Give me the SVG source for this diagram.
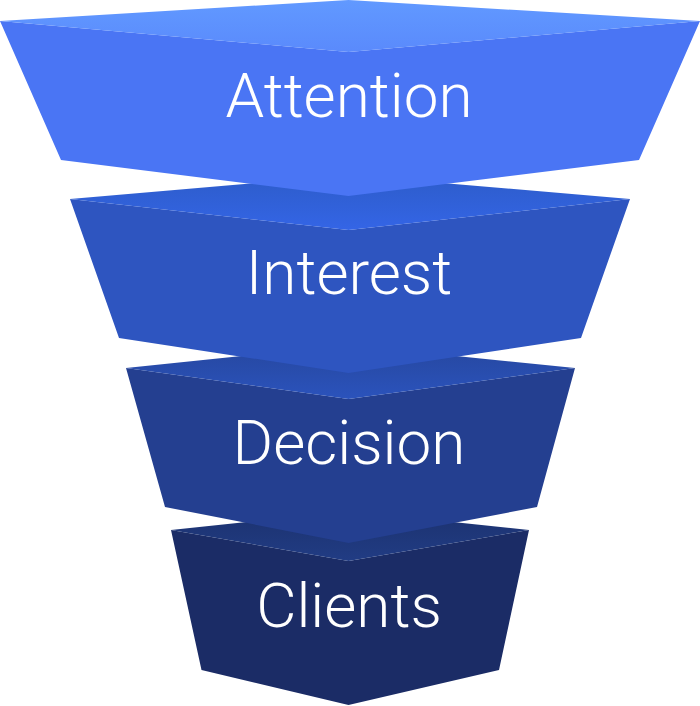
<svg xmlns="http://www.w3.org/2000/svg" width="700" height="706" viewBox="0 0 700 706">
<defs>
<linearGradient id="t1" x1="0" y1="0" x2="0" y2="1"><stop offset="0" stop-color="#6199FF"/><stop offset="1" stop-color="#5A8AFC"/></linearGradient>
<linearGradient id="t2" x1="0" y1="0" x2="0" y2="1"><stop offset="0" stop-color="#2D5CC9"/><stop offset="1" stop-color="#3465E6"/></linearGradient>
<linearGradient id="t3" x1="0" y1="0" x2="0" y2="1"><stop offset="0" stop-color="#26479F"/><stop offset="1" stop-color="#2B53BC"/></linearGradient>
<linearGradient id="t4" x1="0" y1="0" x2="0" y2="1"><stop offset="0" stop-color="#1C326F"/><stop offset="1" stop-color="#213C84"/></linearGradient>
</defs>
<style>
.lbl{font-family:Roboto,"Liberation Sans",sans-serif;font-weight:300;font-size:62px;fill:#ffffff;text-anchor:middle}
</style>
<g id="connectors"></g>
<g id="clients">
<polygon points="171,530 348.5,561 529,530 499,670 348.5,705 201.5,670" fill="#1B2C66"/>
<polygon points="348.5,511 529,530 348.5,561 171,530" fill="url(#t4)"/>
<text class="lbl" x="349" y="627">Clients</text>
</g>
<g id="decision">
<polygon points="126,368 348.5,399 575,368 537,507 348.5,543 165,507" fill="#243F90"/>
<polygon points="348.5,345 575,368 348.5,399 126,368" fill="url(#t3)"/>
<text class="lbl" x="349" y="464">Decision</text>
</g>
<g id="interest">
<polygon points="70,199 348.5,230 630,199 581,338 348.5,373 119,338" fill="#2E55C0"/>
<polygon points="348.5,175 630,199 348.5,230 70,199" fill="url(#t2)"/>
<text class="lbl" x="349" y="294">Interest</text>
</g>
<g id="attention">
<polygon points="0,21 348.5,52 700,21 639,160 348.5,196 61,160" fill="#4A75F4"/>
<polygon points="348.5,0 700,21 348.5,52 0,21" fill="url(#t1)"/>
<text class="lbl" x="349" y="117">Attention</text>
</g>
</svg>
